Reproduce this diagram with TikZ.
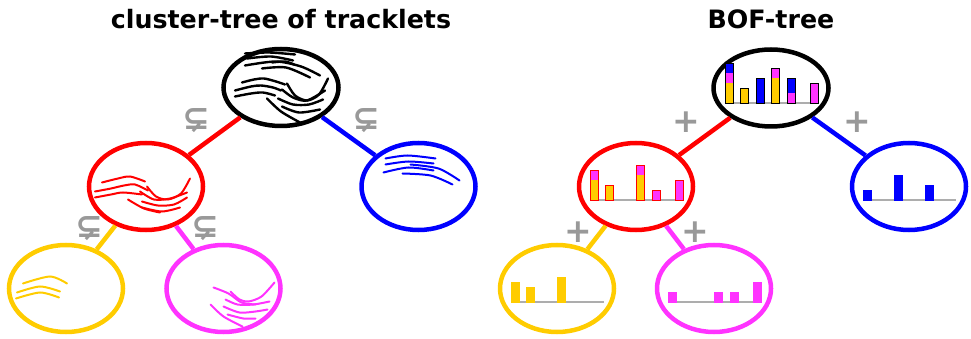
\documentclass[tikz,border=0pt]{standalone}
\usepackage{fontspec}
\setmainfont{DejaVu Sans}
\usetikzlibrary{shapes.geometric,calc}

\definecolor{cyel}{HTML}{FFCC00}
\definecolor{cmag}{HTML}{FF33FF}
\definecolor{cgray}{HTML}{999999}

\tikzset{
  tnode/.style={ellipse, line width=4.5pt, minimum width=114pt, minimum height=87pt, inner sep=0pt},
  tedge/.style={line width=4.5pt},
  trk/.style={line width=2pt, line cap=round},
  relsym/.style={text=cgray, font=\bfseries\fontsize{33}{33}\selectfont, inner sep=0pt},
  ttl/.style={font=\bfseries\fontsize{25.3}{28}\selectfont}
}

% #1 node, #2 outline colour, #3 baseline offset, #4 bins dx/yellow/magenta/blue
\newcommand{\bofhist}[4]{%
  \draw[cgray!80, line width=1.5pt] ($(#1.center)+(-46,#3)$) -- ++(93,0);
  \foreach \dx/\yy/\mm/\bb in {#4} {
    \pgfmathsetmacro\ha{5*\yy}
    \pgfmathsetmacro\hb{5*(\yy+\mm)}
    \pgfmathsetmacro\hc{5*(\yy+\mm+\bb)}
    \coordinate (b0) at ($(#1.center)+(\dx,#3)$);
    \fill[cyel] (b0) rectangle ++(8,-\ha);
    \fill[cmag] ($(b0)+(0,-\ha)$) rectangle ($(b0)+(8,-\hb)$);
    \fill[blue] ($(b0)+(0,-\hb)$) rectangle ($(b0)+(8,-\hc)$);
    \draw[#2, line width=0.8pt] (b0) rectangle ++(8,-\hc);
  }
}

\begin{document}
\begin{tikzpicture}[x=1pt,y=-1pt]
\useasboundingbox (0,0) rectangle (971,339);

% titles
\node[ttl] (ttl1) at (281,19) {cluster-tree of tracklets};
\node[ttl] (ttl2) at (771,19) {BOF-tree};

% cluster-tree
\node[tnode, draw=black, minimum width=115pt, minimum height=77pt] (croot) at (281,87.5) {};
\node[tnode, draw=red] (cred) at (146,186.5) {};
\node[tnode, draw=blue] (cblue) at (418.5,186.5) {};
\node[tnode, draw=cyel] (cyellow) at (66,288.5) {};
\node[tnode, draw=cmag] (cmagenta) at (223.5,288.5) {};

\draw[tedge, red] (croot) -- (cred);
\draw[tedge, blue] (croot) -- (cblue);
\draw[tedge, cyel] (cred) -- (cyellow);
\draw[tedge, cmag] (cred) -- (cmagenta);

\node[relsym] (sub1) at (196,121) {⊊};
\node[relsym] (sub2) at (366,121) {⊊};
\node[relsym] (sub3) at (89,229) {⊊};
\node[relsym] (sub4) at (205,229) {⊊};

% tracklets
\begin{scope}[shift={(croot.center)}, trk, line width=2.4pt]
  \draw plot[smooth] coordinates {(-36,-34) (-12,-35) (14,-33)};
  \draw plot[smooth] coordinates {(-34,-29) (-10,-31) (12,-27)};
  \draw plot[smooth] coordinates {(-9,-25) (4,-26) (13,-23)};
  \draw plot[smooth] coordinates {(-36,-22) (-5,-26) (20,-21) (39,-12)};
  \draw plot[smooth] coordinates {(-19,-19) (5,-20) (29,-10)};
  \draw plot[smooth] coordinates {(-39,-5) (-27,-8) (-17,-9) (-5,-6) (4,-3)};
  \draw plot[smooth] coordinates {(-46,3) (-30,-1) (-20,-2) (-8,0) (0,3)};
  \draw plot[smooth] coordinates {(-46,9) (-30,6) (-18,5) (-6,8)};
  \draw plot[smooth] coordinates {(6,-4) (14,8) (26,13) (38,7) (47,-9)};
  \draw plot[smooth] coordinates {(1,2) (12,10) (26,13) (44,3)};
  \draw plot[smooth] coordinates {(-3,11) (12,17) (28,17) (42,12)};
  \draw plot[smooth] coordinates {(-14,11) (0,24) (19,35)};
  \draw plot[smooth] coordinates {(1,19) (18,25) (39,22)};
\end{scope}
\begin{scope}[shift={(cred.center)}, trk, red]
  \draw plot[smooth] coordinates {(-44,-4) (-28,-8) (-16,-10) (-1,-5)};
  \draw plot[smooth] coordinates {(-51,5) (-35,2) (-22,-1) (-11,-2) (2,4)};
  \draw plot[smooth] coordinates {(-51,11) (-35,8) (-23,6) (-4,8)};
  \draw plot[smooth] coordinates {(1,0) (10,10) (22,13) (35,7) (44,-8)};
  \draw plot[smooth] coordinates {(-6,5) (8,13) (24,12) (41,6)};
  \draw plot[smooth] coordinates {(-4,15) (12,19) (28,18) (41,11)};
  \draw plot[smooth] coordinates {(-18,13) (-2,22) (14,26)};
  \draw plot[smooth] coordinates {(-4,21) (16,25) (34,21)};
\end{scope}
\begin{scope}[shift={(cblue.center)}, trk, blue]
  \draw plot[smooth] coordinates {(-33,-28) (-11,-31) (17,-28)};
  \draw plot[smooth] coordinates {(-33,-22) (-10,-25) (15,-23)};
  \draw plot[smooth] coordinates {(-8,-22) (20,-18) (41,-6)};
  \draw plot[smooth] coordinates {(-35,-14) (-10,-19) (15,-16)};
  \draw plot[smooth] coordinates {(-16,-13) (12,-11) (34,-2)};
\end{scope}
\begin{scope}[shift={(cyellow.center)}, trk, cyel]
  \draw plot[smooth] coordinates {(-43,-5) (-16,-12) (1,-5)};
  \draw plot[smooth] coordinates {(-49,4) (-26,-2) (-6,3)};
  \draw plot[smooth] coordinates {(-50,10) (-26,4) (-7,9)};
\end{scope}
\begin{scope}[shift={(cmagenta.center)}, trk, cmag]
  \draw plot[smooth] coordinates {(7,3) (16,11) (25,13) (38,8) (51,-6)};
  \draw plot[smooth] coordinates {(-10,-1) (5,5) (18,14) (32,16)};
  \draw plot[smooth] coordinates {(2,11) (14,16) (30,16) (46,13)};
  \draw plot[smooth] coordinates {(0,18) (16,24) (32,23) (44,21)};
  \draw plot[smooth] coordinates {(-13,16) (0,28) (19,38)};
  \draw plot[smooth] coordinates {(4,26) (20,30) (32,30)};
\end{scope}

% BOF-tree
\node[tnode, draw=black, minimum width=115pt, minimum height=77pt] (broot) at (771,88) {};
\node[tnode, draw=red] (bred) at (636,186.5) {};
\node[tnode, draw=blue] (bblue) at (909,186.5) {};
\node[tnode, draw=cyel] (byellow) at (557,288.5) {};
\node[tnode, draw=cmag] (bmagenta) at (714,288.5) {};

\draw[tedge, red] (broot) -- (bred);
\draw[tedge, blue] (broot) -- (bblue);
\draw[tedge, cyel] (bred) -- (byellow);
\draw[tedge, cmag] (bred) -- (bmagenta);

\node[relsym] (plus1) at (686,122) {+};
\node[relsym] (plus2) at (857,122) {+};
\node[relsym] (plus3) at (578,232) {+};
\node[relsym] (plus4) at (695,232) {+};

\bofhist{broot}{black}{15}{-46/4/2/2, -30.5/3/0/0, -15/0/0/5, 0.5/5/2/0, 16/0/2/3, 39.5/0/4/0}
\bofhist{bred}{red}{13.5}{-46/4/2/0, -30.5/3/0/0, 0.5/5/2/0, 16/0/2/0, 39.5/0/4/0}
\bofhist{bblue}{blue}{13.5}{-46/0/0/2, -15/0/0/5, 16/0/0/3}
\bofhist{byellow}{cyel}{13.5}{-46/4/0/0, -30.5/3/0/0, 0.5/5/0/0}
\bofhist{bmagenta}{cmag}{13.5}{-46/0/2/0, 0.5/0/2/0, 16/0/2/0, 39.5/0/4/0}
\end{tikzpicture}
\end{document}
